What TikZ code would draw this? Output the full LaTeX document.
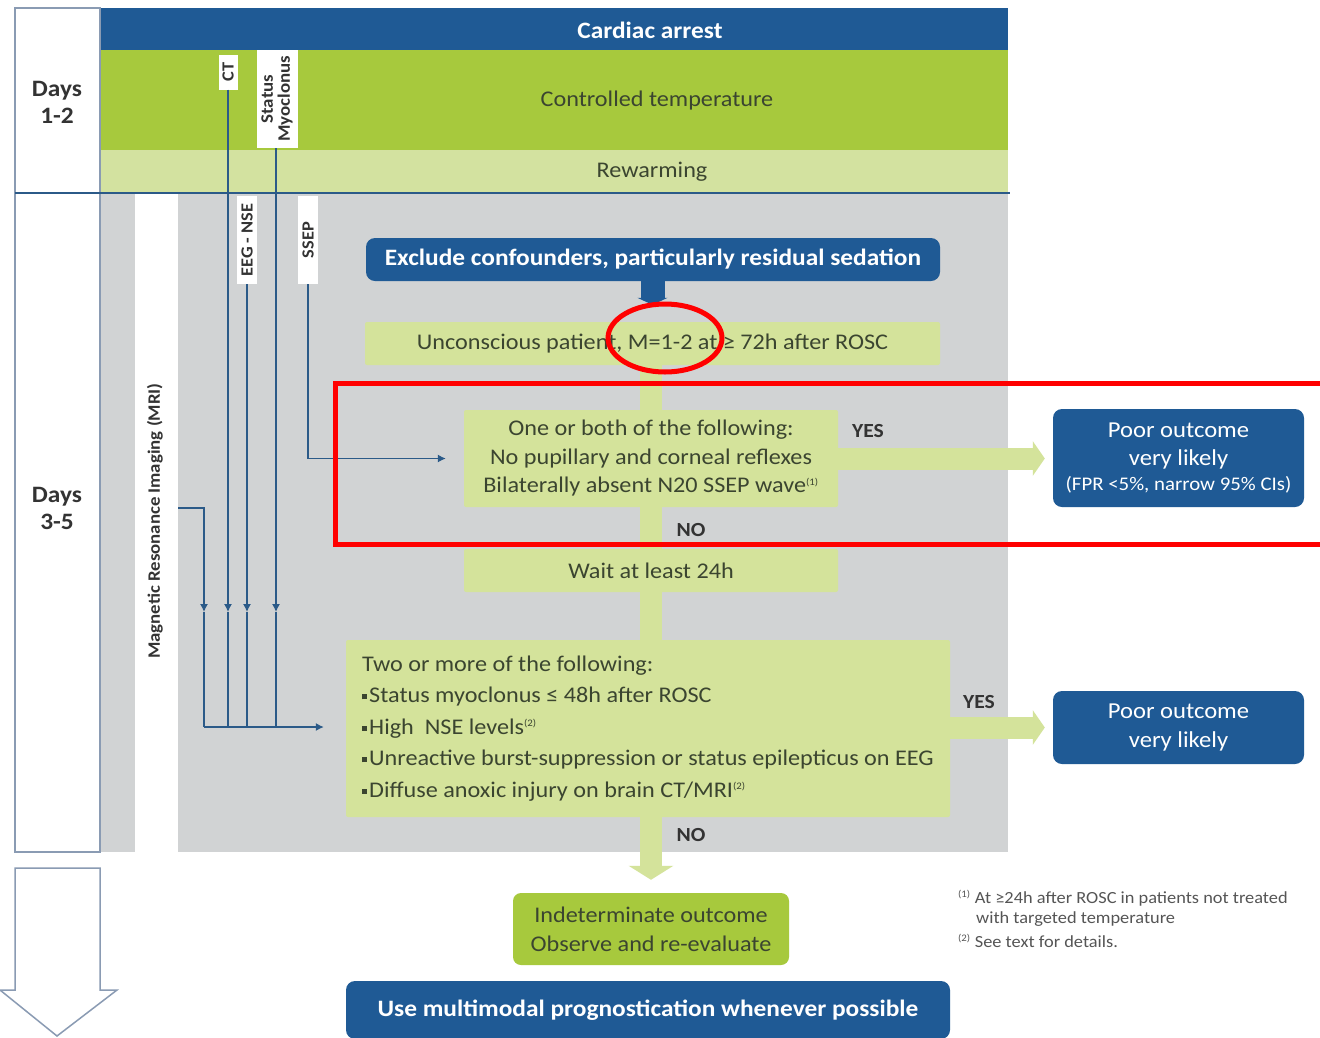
\documentclass[tikz,border=0pt]{standalone}
\usepackage{fontspec}
\setmainfont{Carlito}[FakeStretch=1.08]
\usetikzlibrary{arrows.meta}
\definecolor{cblue}{HTML}{1F5A95}
\definecolor{cgreen}{HTML}{A7C93D}
\definecolor{cpale}{HTML}{D4E39B}
\definecolor{cwarm}{HTML}{D3E2A0}
\definecolor{cgray}{HTML}{D1D3D4}
\definecolor{ctext}{HTML}{3B4530}
\definecolor{cdark}{HTML}{333333}
\definecolor{cline}{HTML}{2B5A88}
\definecolor{cframe}{HTML}{8A9BB3}
\definecolor{cfoot}{HTML}{555555}
\pgfdeclarelayer{back}
\pgfdeclarelayer{mid}
\pgfsetlayers{back,mid,main}
\newcommand\fnsup[1]{\textsuperscript{\fontsize{10}{10}\selectfont(#1)}}
\newcommand\sqbul{\raisebox{3.5pt}{\rule{5pt}{5pt}}\hspace{2pt}}
\begin{document}
\begin{tikzpicture}[x=1pt,y=-1pt,
  pale/.style={fill=cpale, text=ctext, font=\fontsize{22.4}{28.5}\selectfont, align=center, inner sep=0pt, rounded corners=2pt},
  bluebox/.style={fill=cblue, text=white, rounded corners=9pt, align=center, inner sep=0pt},
  tag/.style={fill=white, text=cdark, font=\bfseries\fontsize{17}{16}\selectfont, inner sep=0pt, align=center, rotate=90},
  flow/.style={line width=22pt, draw=cpale},
  thinln/.style={draw=cline, line width=1.2pt},
  thinarr/.style={thinln, -{Latex[length=8pt,width=8pt]}},
  lab/.style={font=\bfseries\fontsize{20}{20}\selectfont, text=cdark},
  redmark/.style={draw=red, line width=5pt},
  daytxt/.style={font=\bfseries\fontsize{23.5}{27}\selectfont, text=cdark, align=center},
  foot/.style={font=\fontsize{17}{18}\selectfont, text=cfoot, anchor=west, inner sep=0pt}]
\useasboundingbox (0,0) rectangle (1320,1037);

% background bands
\begin{pgfonlayer}{back}
\fill[white] (0,0) rectangle (1320,1037);
\fill[cblue] (100,8) rectangle (1008,50);
\fill[cgreen] (100,50) rectangle (1008,150);
\fill[cwarm] (100,150) rectangle (1008,193);
\fill[cgray] (100,193) rectangle (135,852);
\fill[cgray] (178,193) rectangle (1008,852);
\end{pgfonlayer}

% days column
\draw[cframe, line width=1.2pt] (15,8) rectangle (100,852);
\draw[cline, line width=1.2pt] (15,193) -- (1010,193);
\node[daytxt] (d12) at (57,102) {Days\\1-2};
\node[daytxt] (d35) at (57,508) {Days\\3-5};

% band texts
\node[text=white, font=\bfseries\fontsize{23.5}{23.5}\selectfont] (ca) at (650,30) {Cardiac arrest};
\node[text=ctext, font=\fontsize{22.4}{22.4}\selectfont] (tt) at (657,101) {Controlled temperature};
\node[text=ctext, font=\fontsize{22.4}{22.4}\selectfont] (rw) at (652,172) {Rewarming};

% test tags
\node[tag, minimum width=35pt, minimum height=19pt] (tct) at (228,72) {CT};
\node[tag, minimum width=98pt, minimum height=41pt, font=\bfseries\fontsize{17.5}{17}\selectfont] (tsm) at (277,99) {Status\\Myoclonus};
\node[tag, minimum width=88pt, minimum height=20pt] (teeg) at (247,240) {EEG - NSE};
\node[tag, minimum width=88pt, minimum height=20pt] (tssep) at (308,240) {SSEP};
\node[rotate=90, text=cdark, font=\bfseries\fontsize{17.4}{17}\selectfont] (tmri) at (155,521) {Magnetic Resonance Imaging (MRI)};

% main flow boxes
\node[bluebox, font=\bfseries\fontsize{23.5}{23.5}\selectfont, minimum width=574pt, minimum height=43pt] (excl) at (653,259.5) {Exclude confounders, particularly residual sedation};
\node[pale, minimum width=575pt, minimum height=43pt] (uncon) at (652.5,343.5) {Unconscious patient, M=1-2 at ≥ 72h after ROSC};
\node[pale, minimum width=374pt, minimum height=97pt] (one) at (651,458.5) {One or both of the following:\\No pupillary and corneal reflexes\\Bilaterally absent N20 SSEP wave\fnsup{1}};
\node[pale, minimum width=374pt, minimum height=43pt] (wait) at (651,570.5) {Wait at least 24h};
\node[pale, minimum width=604pt, minimum height=177pt, align=left, font=\fontsize{22.4}{31.5}\selectfont] (two) at (648,728.5) {Two or more of the following:\\
\sqbul Status myoclonus ≤ 48h after ROSC\\
\sqbul High\ \ NSE levels\fnsup{2}\\
\sqbul Unreactive burst-suppression or status epilepticus on EEG\\
\sqbul Diffuse anoxic injury on brain CT/MRI\fnsup{2}};
\node[fill=cgreen, text=ctext, rounded corners=8pt, align=center, inner sep=0pt, font=\fontsize{22.4}{29}\selectfont, minimum width=276pt, minimum height=72pt] (indet) at (651,929) {Indeterminate outcome\\Observe and re-evaluate};
\node[bluebox, font=\bfseries\fontsize{23.5}{23.5}\selectfont, minimum width=604pt, minimum height=58pt] (multi) at (648,1010) {Use multimodal prognostication whenever possible};
\node[bluebox, font=\fontsize{22.8}{28}\selectfont, minimum width=251pt, minimum height=98pt] (poor1) at (1178.5,458) {Poor outcome\\very likely\\[-3pt]{\fontsize{19.3}{20}\selectfont (FPR <5\%, narrow 95\% CIs)}};
\node[bluebox, font=\fontsize{22.8}{29}\selectfont, minimum width=251pt, minimum height=73pt] (poor2) at (1178.5,727.5) {Poor outcome\\very likely};

% yes / no labels
\node[lab] (y1) at (868,431) {YES};
\node[lab] (n1) at (691,530) {NO};
\node[lab] (y2) at (979,702) {YES};
\node[lab] (n2) at (691,835) {NO};

% footnotes
\node[foot] (fn1) at (958,898) {\fnsup{1} At ≥24h after ROSC in patients not treated};
\node[foot] (fn1b) at (976,919) {with targeted temperature};
\node[foot] (fn2) at (958,941) {\fnsup{2} See text for details.};

% flow connectors
\begin{pgfonlayer}{mid}
\draw[line width=24pt, draw=cblue, -{Triangle[length=7pt,width=30pt]}, shorten >=17pt] (excl.south -| uncon.north) -- (uncon.north);
\draw[flow] (uncon.south -| one.north) -- (one.north);
\draw[flow] (one.south) -- (wait.north);
\draw[flow] (wait.south) -- (wait.south |- two.north);
\draw[flow, -{Triangle[length=14pt,width=44pt]}, shorten >=13pt] (two.south -| indet.north) -- (indet.north);
\draw[flow, -{Triangle[length=12pt,width=34pt]}, shorten >=8pt] (one.east) -- (one.east -| poor1.west);
\draw[flow, -{Triangle[length=12pt,width=34pt]}, shorten >=8pt] (two.east |- poor2.west) -- (poor2.west);
\end{pgfonlayer}

% test lines
\coordinate (mk) at (0,612);
\coordinate (mriA) at (178,508);
\coordinate (jn) at (204,727);
\draw[thinarr] (mriA) -| (jn |- mk);
\draw[thinln] (jn |- mk) -- (jn);
\draw[thinarr] (tct.west) -- (tct.west |- mk);
\draw[thinln] (tct.west |- mk) -- (tct.west |- jn);
\draw[thinarr] (teeg.west) -- (teeg.west |- mk);
\draw[thinln] (teeg.west |- mk) -- (teeg.west |- jn);
\draw[thinarr] ([xshift=-1pt]tsm.west) -- ([xshift=-1pt]tsm.west |- mk);
\draw[thinln] ([xshift=-1pt]tsm.west |- mk) -- ([xshift=-1pt]tsm.west |- jn);
\draw[thinarr, shorten >=22pt] (jn) -- (jn -| two.west);
\draw[thinarr, shorten >=18pt] (tssep.west) |- (one.west);

% bottom outline arrow
\draw[cframe, line width=1.5pt] (15,868) -- (100,868) -- (100,990) -- (117,990) -- (57,1036) -- (0,990) -- (15,990) -- cycle;

% red annotations
\draw[redmark] (1330,383) -- (335,383) -- (335,544) -- (1330,544);
\draw[redmark] (665,338) ellipse [x radius=57, y radius=34];
\end{tikzpicture}
\end{document}
